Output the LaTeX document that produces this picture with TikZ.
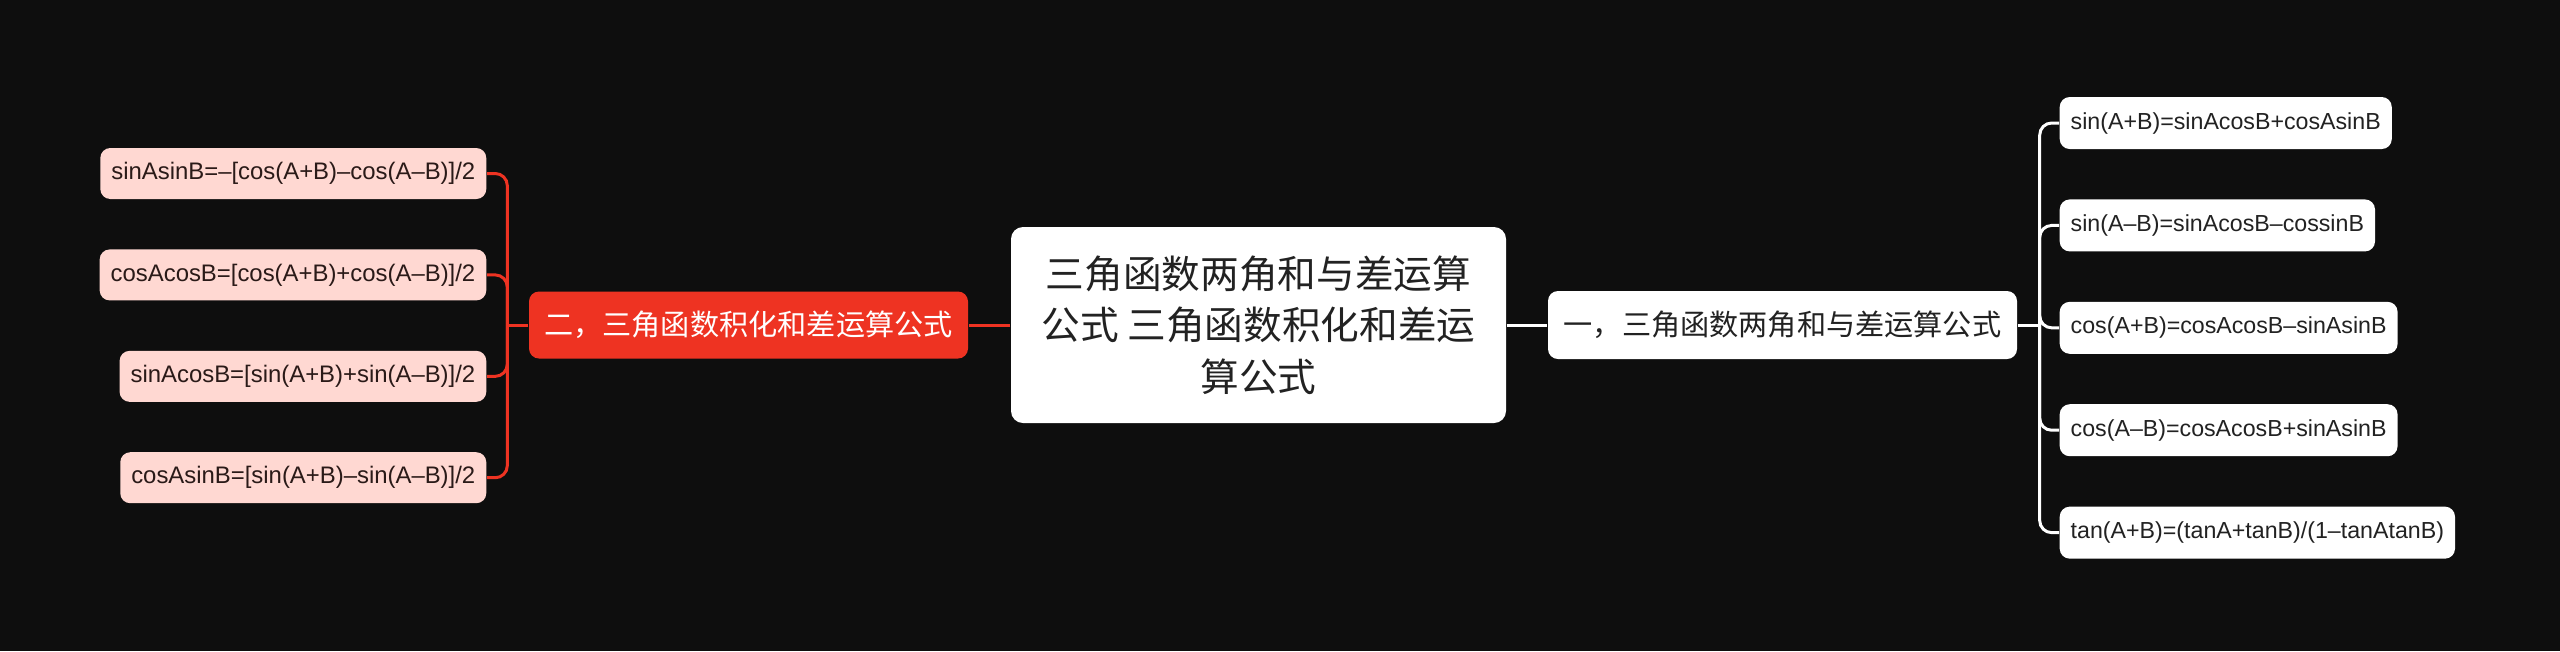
\documentclass[tikz,border=0pt]{standalone}
\usepackage{fontspec}
\setmainfont{Liberation Sans}
\newfontfamily\cjk{Noto Sans CJK SC}
\usetikzlibrary{positioning}
\definecolor{bgdark}{HTML}{0E0E0E}
\definecolor{redbr}{HTML}{EE3322}
\definecolor{pinkleaf}{HTML}{FFD8D2}
\definecolor{inkdark}{HTML}{2A1A18}
\definecolor{inkgray}{HTML}{222222}
\tikzstyle{rootbox} = [rectangle, rounded corners=0.12cm, minimum width=4.95cm, minimum height=1.96cm, align=center, fill=white, text=inkgray, font=\cjk\fontsize{11pt}{14.6pt}\selectfont]
\tikzstyle{branchW} = [rectangle, rounded corners=0.1cm, minimum width=4.69cm, minimum height=0.68cm, text centered, fill=white, text=inkgray, font=\cjk\fontsize{8.3pt}{10pt}\selectfont]
\tikzstyle{branchR} = [rectangle, rounded corners=0.1cm, minimum width=4.39cm, minimum height=0.67cm, text centered, fill=redbr, text=white, font=\cjk\fontsize{8.3pt}{10pt}\selectfont]
\tikzstyle{leafW} = [rectangle, rounded corners=0.1cm, minimum height=0.52cm, inner xsep=0.11cm, fill=white, text=inkgray, font=\fontsize{6.6pt}{8pt}\selectfont, anchor=west]
\tikzstyle{leafP} = [rectangle, rounded corners=0.1cm, minimum height=0.51cm, inner xsep=0.11cm, fill=pinkleaf, text=inkdark, font=\fontsize{6.8pt}{8pt}\selectfont, anchor=east]
\tikzstyle{wireW} = [white, line width=0.85pt]
\tikzstyle{wireR} = [redbr, line width=0.85pt]
\def\gap{0.49cm}

\begin{document}
\begin{tikzpicture}
\fill [bgdark] (0,0) rectangle (25.6,-6.51);
\useasboundingbox (0,0) rectangle (25.6,-6.51);

\node (root) [rootbox] at (12.585,-3.25) {三角函数两角和与差运算\\公式 三角函数积化和差运\\算公式};
\node (one) [branchW] at (17.825,-3.25) {一，三角函数两角和与差运算公式};
\node (two) [branchR] at (7.485,-3.25) {二，三角函数积化和差运算公式};

% right side
\node (r1) [leafW] at (20.59,-1.23) {sin(A+B)=sinAcosB+cosAsinB};
\node (r2) [leafW, below=\gap of r1.south west, anchor=north west] {sin(A–B)=sinAcosB–cossinB};
\node (r3) [leafW, below=\gap of r2.south west, anchor=north west] {cos(A+B)=cosAcosB–sinAsinB};
\node (r4) [leafW, below=\gap of r3.south west, anchor=north west] {cos(A–B)=cosAcosB+sinAsinB};
\node (r5) [leafW, below=\gap of r4.south west, anchor=north west] {tan(A+B)=(tanA+tanB)/(1–tanAtanB)};

% left side
\node (l1) [leafP] at (4.87,-1.735) {sinAsinB=–[cos(A+B)–cos(A–B)]/2};
\node (l2) [leafP, below=\gap of l1.south east, anchor=north east] {cosAcosB=[cos(A+B)+cos(A–B)]/2};
\node (l3) [leafP, below=\gap of l2.south east, anchor=north east] {sinAcosB=[sin(A+B)+sin(A–B)]/2};
\node (l4) [leafP, below=\gap of l3.south east, anchor=north east] {cosAsinB=[sin(A+B)–sin(A–B)]/2};

\coordinate (rfork) at ([xshift=0.22cm]one.east);
\coordinate (lfork) at ([xshift=-0.21cm]two.west);

\draw [wireW] (root.east) -- (one.west);
\draw [wireW] (one.east) -- (rfork);
\foreach \i in {1,...,5}
  \draw [wireW, rounded corners=0.12cm] (rfork) |- (r\i.west);

\draw [wireR] (root.west) -- (two.east);
\draw [wireR] (two.west) -- (lfork);
\foreach \i in {1,...,4}
  \draw [wireR, rounded corners=0.12cm] (lfork) |- (l\i.east);

\end{tikzpicture}
\end{document}
